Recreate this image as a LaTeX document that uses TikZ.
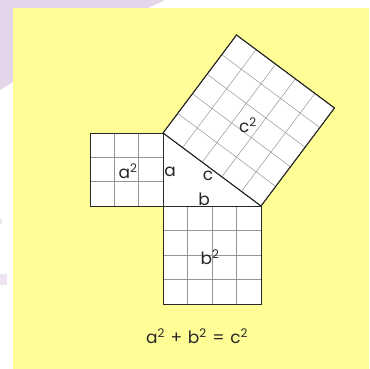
\documentclass[tikz,border=0pt]{standalone}
\usepackage{fontspec}
\usetikzlibrary{calc}
\setmainfont{Poppins}
\definecolor{bgyellow}{RGB}{255,253,150}
\definecolor{lav}{RGB}{228,213,235}
\definecolor{lavlight}{RGB}{238,228,242}
\definecolor{ink}{RGB}{40,40,40}
\definecolor{gridc}{RGB}{150,150,150}
\tikzset{
  sq/.style={draw=ink, line width=0.9pt, fill=white},
  gridline/.style={draw=gridc, line width=0.5pt},
  lbl/.style={text=ink, font=\fontsize{17}{17}\selectfont, inner sep=0pt}
}
\begin{document}
\begin{tikzpicture}[x=1pt,y=-1pt]
\useasboundingbox (0,0) rectangle (369,369);
\fill[white] (0,0) rectangle (369,369);
\fill[lav] (0,0) -- (165,0) -- (148,8) -- (13,8) -- (13,82) -- (0,90) -- cycle;
\fill[lavlight] (0,219) rectangle (2,224);
\fill[lavlight] (0,274) rectangle (7,285);
\fill[bgyellow] (13,8) rectangle (369,369);
% triangle vertices
\coordinate (A) at (163,133);
\coordinate (C) at (163,206);
\coordinate (B) at (261,206);
\coordinate (P) at (236.5,35);
\coordinate (Q) at (334.5,108);
% triangle
\fill[white] (A) -- (C) -- (B) -- cycle;
% a-square
\filldraw[sq] (90,133) rectangle (C);
\foreach \i in {1,2} {
  \draw[gridline] ({90+\i*73/3},133) -- ({90+\i*73/3},206);
  \draw[gridline] (90,{133+\i*73/3}) -- (163,{133+\i*73/3});
}
\draw[ink, line width=0.9pt] (90,133) rectangle (C);
% b-square
\filldraw[sq] (C) rectangle (261,304);
\foreach \i in {1,2,3} {
  \draw[gridline] ({163+\i*98/4},206) -- ({163+\i*98/4},304);
  \draw[gridline] (163,{206+\i*98/4}) -- (261,{206+\i*98/4});
}
\draw[ink, line width=0.9pt] (C) rectangle (261,304);
% c-square
\filldraw[sq] (A) -- (B) -- (Q) -- (P) -- cycle;
\foreach \i in {1,2,3,4} {
  \draw[gridline] ($(A)!\i/5!(B)$) -- ($(P)!\i/5!(Q)$);
  \draw[gridline] ($(A)!\i/5!(P)$) -- ($(B)!\i/5!(Q)$);
}
\draw[ink, line width=0.9pt] (A) -- (B) -- (Q) -- (P) -- cycle;
\draw[ink, line width=0.9pt] (A) -- (C) -- (B);
% labels
\node[lbl] (la2) at (128,171) {a\textsuperscript{2}};
\node[lbl] (la) at (170,172) {a};
\node[lbl] (lc) at (208,176) {c};
\node[lbl] (lb) at (204,199) {b};
\node[lbl] (lc2) at (248,125) {c\textsuperscript{2}};
\node[lbl] (lb2) at (210,257) {b\textsuperscript{2}};
\node[lbl] (eq) at (197,336) {a\textsuperscript{2}\,\,+\,\,b\textsuperscript{2}\,\,=\,\,c\textsuperscript{2}};
\end{tikzpicture}
\end{document}
